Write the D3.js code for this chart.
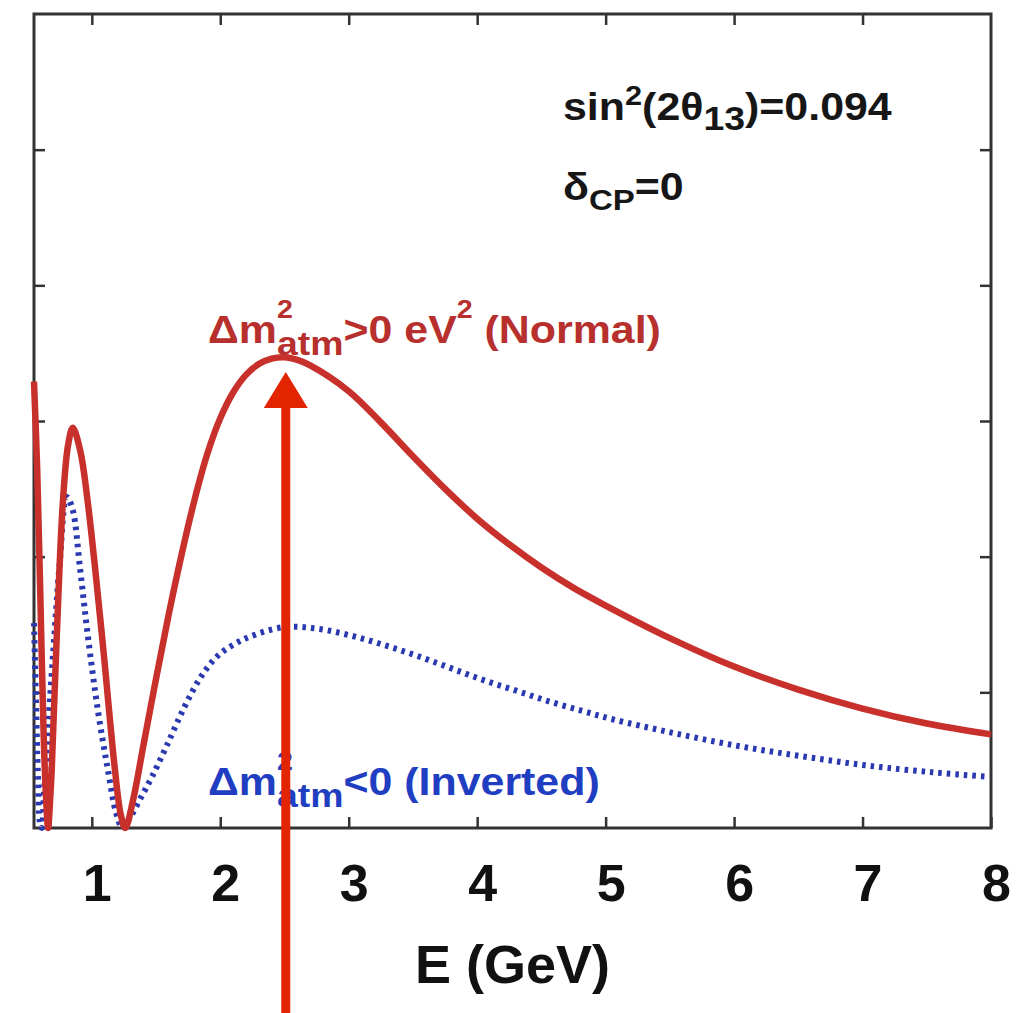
<!DOCTYPE html>
<html>
<head>
<meta charset="utf-8">
<script src="https://cdn.jsdelivr.net/npm/d3@7"></script>
<style>
  body { margin: 0; background: #fff; }
  svg { display: block; font-family: "Liberation Sans", Arial, Helvetica, sans-serif; font-weight: bold; }
  text { white-space: pre; }
</style>
</head>
<body>
<svg></svg>
<script>
// normal hierarchy (solid red)
const energyNormal = [0.55, 0.575, 0.6, 0.625, 0.645, 0.66, 0.675, 0.688, 0.727, 0.774, 0.815, 0.852, 0.91, 0.97, 1.08, 1.18, 1.225, 1.26,
  1.32, 1.4, 1.5, 1.6, 1.7, 1.8, 1.9, 2.0, 2.1, 2.2, 2.3, 2.4, 2.5, 2.6, 2.7, 3.0, 3.25, 3.5, 3.75, 4.0, 4.25, 4.5, 4.75, 5.0, 5.5, 6.0, 6.5, 7.0, 7.5, 8.0]
const probNormal = [3.29, 2.64, 1.68, 0.69, 0.2, 0.0, 0.2, 0.43, 1.41, 2.39, 2.82, 2.95, 2.78, 2.39, 1.41, 0.43, 0.1, 0.0,
  0.2, 0.6, 1.1, 1.58, 2.02, 2.42, 2.76, 3.02, 3.21, 3.34, 3.42, 3.46, 3.47, 3.45, 3.41, 3.22, 2.99, 2.74, 2.5, 2.28, 2.09, 1.92, 1.77, 1.64, 1.4, 1.19, 1.02, 0.88, 0.77, 0.69]

// inverted hierarchy (dotted blue)
const energyInverted = [0.55, 0.565, 0.58, 0.595, 0.61, 0.63, 0.65, 0.7, 0.75, 0.805, 0.85, 0.91, 0.97, 1.05, 1.125, 1.19, 1.24,
  1.3, 1.38, 1.47, 1.58, 1.71, 1.84, 1.97, 2.1, 2.23, 2.49, 2.75, 3.01, 3.27, 3.53, 3.79, 4.05, 4.31, 4.57, 4.83, 5.06, 5.48, 6.0, 6.52, 7.04, 7.55, 7.95]
const probInverted = [1.51, 0.95, 0.4, 0.05, 0.0, 0.3, 0.6, 1.3, 1.95, 2.44, 2.35, 1.9, 1.41, 0.85, 0.43, 0.11, 0.0,
  0.08, 0.22, 0.38, 0.6, 0.87, 1.1, 1.26, 1.35, 1.41, 1.48, 1.47, 1.42, 1.35, 1.27, 1.18, 1.09, 1.01, 0.93, 0.86, 0.8, 0.71, 0.61, 0.53, 0.46, 0.41, 0.38]

const xTicks = [1, 2, 3, 4, 5, 6, 7, 8]
const yTicks = [1, 2, 3, 4, 5]
const xTitle = 'E (GeV)'
const arrowEnergy = 2.51

// annotation pieces: [text, kind, stacked, size]
const paramLine1 = [['sin', 'main'], ['2', 'sup'], ['(2θ', 'main'], ['13', 'sub'], [')=0.094', 'main']]
const paramLine2 = [['δ', 'main'], ['CP', 'sub', false, 30], ['=0', 'main']]
const normalLabel = [['Δm', 'main'], ['2', 'hi'], ['atm', 'lo', true], ['>0 eV', 'main'], ['2', 'hi'], [' (Normal)', 'main']]
const invertedLabel = [['Δm', 'main'], ['2', 'hi'], ['atm', 'lo', true], ['<0 (Inverted)', 'main']]

const width = 1034
const height = 1013
const plotLeft = 34, plotRight = 991, plotTop = 14, plotBottom = 828

const svg = d3.select('svg').attr('width', width).attr('height', height)

const x = d3.scaleLinear().domain([0.55, 8]).range([plotLeft, plotRight])
const y = d3.scaleLinear().domain([0, 6]).range([plotBottom, plotTop])

const axisColor = '#333'

// frame
svg.append('rect')
   .attr('x', plotLeft).attr('y', plotTop)
   .attr('width', plotRight - plotLeft).attr('height', plotBottom - plotTop)
   .attr('fill', 'none').attr('stroke', axisColor).attr('stroke-width', 3)

const styleAxis = g => {
  g.select('.domain').remove()
  g.selectAll('.tick line').attr('stroke', axisColor).attr('stroke-width', 2.5)
}

svg.append('g')
   .attr('transform', `translate(0, ${plotBottom})`)
   .call(d3.axisBottom(x).tickValues(xTicks).tickSize(-11).tickFormat(d3.format('d')))
   .call(styleAxis)
   .call(g => g.selectAll('.tick text')
     .attr('dy', null).attr('y', 73).attr('x', 5)
     .attr('fill', '#111').attr('font-size', 52)
     .attr('font-family', null).attr('font-weight', 'bold'))

svg.append('g')
   .attr('transform', `translate(0, ${plotTop})`)
   .call(d3.axisTop(x).tickValues(xTicks.filter(d => d < 8)).tickSize(-11).tickFormat(''))
   .call(styleAxis)

svg.append('g')
   .attr('transform', `translate(${plotLeft}, 0)`)
   .call(d3.axisLeft(y).tickValues(yTicks).tickSize(-11).tickFormat(''))
   .call(styleAxis)

svg.append('g')
   .attr('transform', `translate(${plotRight}, 0)`)
   .call(d3.axisRight(y).tickValues(yTicks).tickSize(-11).tickFormat(''))
   .call(styleAxis)

svg.append('text')
   .attr('x', (plotLeft + plotRight) / 2)
   .attr('y', 983)
   .attr('text-anchor', 'middle')
   .attr('font-size', 54)
   .attr('fill', '#111')
   .text(xTitle)

// curves
const line = d3.line()
  .x(d => x(d[0]))
  .y(d => y(d[1]))
  .curve(d3.curveCatmullRom.alpha(0.5))

svg.append('path')
   .datum(d3.zip(energyInverted, probInverted))
   .attr('d', line)
   .attr('fill', 'none')
   .attr('stroke', '#2b39b0')
   .attr('stroke-width', 6)
   .attr('stroke-dasharray', '3.5,5')

svg.append('path')
   .datum(d3.zip(energyNormal, probNormal))
   .attr('d', line)
   .attr('fill', 'none')
   .attr('stroke', '#c8302b')
   .attr('stroke-width', 6.5)
   .attr('stroke-linejoin', 'round')

// rich text with super/subscripts as tspans of one text element;
// glyphs are a bit wider than Arial in the original
const sizes = { main: 39, sup: 28, hi: 26, sub: 34, lo: 34 }
const shifts = { main: 0, sup: -15, hi: -25, sub: 10, lo: 12 }
const stretch = 1.1
const richText = (x0, y0, parts, color) => {
  const text = svg.append('text')
                  .attr('fill', color)
                  .attr('transform', `translate(${x0}, ${y0}) scale(${stretch}, 1)`)
  let cx = 0
  let prevStart = 0
  parts.forEach(([t, kind, stacked, size]) => {
    const sx = stacked ? prevStart : cx
    const span = text.append('tspan')
                     .attr('x', sx)
                     .attr('y', shifts[kind])
                     .attr('font-size', size || sizes[kind])
                     .text(t)
    const w = span.node().getComputedTextLength()
    prevStart = sx
    cx = Math.max(cx, sx + w)
  })
  return text
}

richText(563, 120, paramLine1, '#161616')
richText(563, 200, paramLine2, '#161616')
richText(208, 343, normalLabel, '#b8302e')
richText(208, 795, invertedLabel, '#1f3ec2')

// arrow pointing at the normal-hierarchy peak
const ax = x(arrowEnergy)
svg.append('line')
   .attr('x1', ax).attr('x2', ax)
   .attr('y1', height).attr('y2', 400)
   .attr('stroke', '#e22400')
   .attr('stroke-width', 9)
svg.append('path')
   .attr('d', `M${ax},372 L${ax - 22},408 L${ax + 22},408 Z`)
   .attr('fill', '#e22400')
</script>
</body>
</html>
